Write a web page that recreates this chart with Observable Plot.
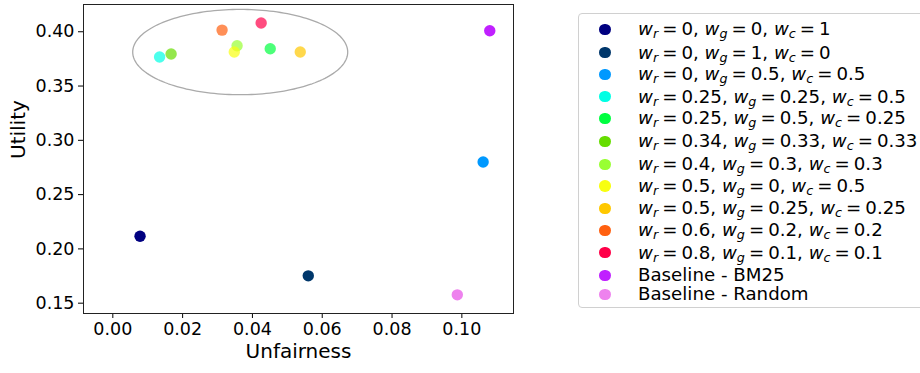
<!DOCTYPE html>
<html>
<head>
<meta charset="utf-8">
<script src="https://cdn.jsdelivr.net/npm/d3@7"></script>
<script src="https://cdn.jsdelivr.net/npm/@observablehq/plot@0.6"></script>
<style>
  html, body { margin: 0; padding: 0; background: #fff; }
  #wrap { position: relative; width: 920px; height: 373px; overflow: hidden; font-family: "DejaVu Sans", sans-serif; }
  #legend { position: absolute; left: 578px; top: 13px; width: 360px; height: 295px; border: 1px solid #d0d0d0; border-radius: 4px; box-sizing: border-box; background: #fff; }
  .row { position: absolute; left: 0; height: 21px; display: flex; align-items: center; font-size: 18.2px; color: #000; white-space: nowrap; }
  .sw { position: absolute; left: 20px; width: 11.5px; height: 11.5px; border-radius: 50%; }
  .lab { position: absolute; left: 59px; line-height: 20px; }
  .lab i { font-style: italic; }
  .lab sub { font-size: 0.7em; vertical-align: -0.22em; line-height: 0; font-style: italic; }
  .eq { margin: 0 0.22em; }
</style>
</head>
<body>
<div id="wrap">
  <div id="chart"></div>
  <div id="legend"></div>
</div>
<script>
// ---- data ----
const labels = [
  ["0","0","1"],
  ["0","1","0"],
  ["0","0.5","0.5"],
  ["0.25","0.25","0.5"],
  ["0.25","0.5","0.25"],
  ["0.34","0.33","0.33"],
  ["0.4","0.3","0.3"],
  ["0.5","0","0.5"],
  ["0.5","0.25","0.25"],
  ["0.6","0.2","0.2"],
  ["0.8","0.1","0.1"],
  "Baseline - BM25",
  "Baseline - Random"
];
const unfairness = [0.0078, 0.0560, 0.1061, 0.0134, 0.0451, 0.0167, 0.0356, 0.0348, 0.0537, 0.0313, 0.0425, 0.1080, 0.0987];
const utility    = [0.2116, 0.1752, 0.2801, 0.3767, 0.3844, 0.3795, 0.3871, 0.3813, 0.3813, 0.4015, 0.4080, 0.4009, 0.1577];
const colors = ["#000080", "#00376b", "#0099ff", "#00ffe4", "#00ff40", "#66dd00", "#99ff33", "#f8ff10", "#ffc800", "#ff6010", "#ff0048", "#c020ff", "#ee82ee"];
const alphas = [1, 1, 1, 0.7, 0.7, 0.7, 0.7, 0.7, 0.7, 0.7, 0.7, 1, 1];
const xTicks = [0, 0.02, 0.04, 0.06, 0.08, 0.10];
const yTicks = [0.15, 0.20, 0.25, 0.30, 0.35, 0.40];
// annotation ellipse (data units): center x, center y, radius x, radius y
const ellipseCenter = [0.0365, 0.3813];
const ellipseRadius = [0.0308, 0.0393];

const points = unfairness.map((x, i) => ({x, y: utility[i], c: colors[i], a: alphas[i]}));
const ellipsePts = d3.range(0, 361, 2).map(deg => {
  const t = deg * Math.PI / 180;
  return {x: ellipseCenter[0] + ellipseRadius[0] * Math.cos(t), y: ellipseCenter[1] + ellipseRadius[1] * Math.sin(t)};
});

const chart = Plot.plot({
  width: 920,
  height: 373,
  marginLeft: 83,
  marginRight: 407,
  marginTop: 4,
  marginBottom: 60,
  style: {fontFamily: "DejaVu Sans, sans-serif", fontSize: "17.5px", color: "#000", background: "#fff"},
  x: {domain: [-0.0084, 0.1148], ticks: xTicks, tickFormat: d3.format(".2f"), label: null},
  y: {domain: [0.1405, 0.4251], ticks: yTicks, tickFormat: d3.format(".2f"), label: null},
  marks: [
    Plot.axisX({ticks: xTicks, tickFormat: d3.format(".2f"), tickSize: 5, tickPadding: 4, fontSize: 17.5, label: null, stroke: "#000"}),
    Plot.axisY({ticks: yTicks, tickFormat: d3.format(".2f"), tickSize: 5, tickPadding: 4, fontSize: 17.5, label: null, stroke: "#000"}),
    Plot.line(ellipsePts, {x: "x", y: "y", stroke: "#aaaaaa", strokeWidth: 1.3, curve: "linear"}),
    Plot.dot(points, {x: "x", y: "y", r: 5.7, fill: "c", fillOpacity: "a", stroke: null}),
    Plot.frame({stroke: "#222", strokeWidth: 1}),
    Plot.text(["Unfairness"], {frameAnchor: "bottom", dy: 44, fontSize: 20, fill: "#000"}),
    Plot.text(["Utility"], {frameAnchor: "left", dx: -65, rotate: -90, fontSize: 20, fill: "#000"})
  ]
});
document.getElementById("chart").appendChild(chart);

// legend
const leg = document.getElementById("legend");
const rowTops = [28.3, 51.7, 73.3, 95.7, 117.3, 140.3, 163.3, 185, 207.3, 229.3, 251.7, 274.3, 293.3];
labels.forEach((l, i) => {
  const row = document.createElement("div");
  row.className = "row";
  row.style.top = (rowTops[i] - 13 - 10.5) + "px";
  const sw = document.createElement("div");
  sw.className = "sw";
  sw.style.background = colors[i];
  row.appendChild(sw);
  const lab = document.createElement("div");
  lab.className = "lab";
  if (typeof l === "string") {
    lab.textContent = l;
  } else {
    lab.innerHTML = `<i>w</i><sub>r</sub><span class="eq">=</span>${l[0]}, <i>w</i><sub>g</sub><span class="eq">=</span>${l[1]}, <i>w</i><sub>c</sub><span class="eq">=</span>${l[2]}`;
  }
  row.appendChild(lab);
  leg.appendChild(row);
});
</script>
</body>
</html>
